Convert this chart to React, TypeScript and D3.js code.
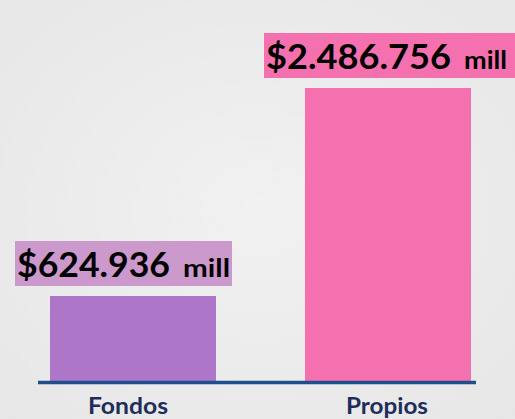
import React from "react";
import * as d3 from "d3";

const categories = ["Fondos", "Propios"];
const values = [624936, 2486756];
const valueLabels = ["$624.936", "$2.486.756"];
const unitLabel = "mill";
const barColors = ["#ad76c8", "#f570ae"];
const labelBoxColors = ["#cc99cc", "#f570ae"];

const W = 515;
const H = 419;

export default function App() {
  const pInner = 89 / 255;
  const x = d3
    .scaleBand<string>()
    .domain(categories)
    .range([-26.5, -26.5 + 255 * (2 - pInner + 0.6)])
    .paddingInner(pInner)
    .paddingOuter(0.3);
  // y domain baseline offset as in the original (bars not proportional to zero)
  const yMin = -140364;
  const y = d3.scaleLinear().domain([yMin, d3.max(values) as number]).range([381.5, 88]);
  const y0 = y(yMin);

  const numLen = [153, 185];
  const unitLen = [47, 43];
  const boxLeftArr = [15, 264];
  const boxWArr = [217, 251];
  const catLen = [80, 82];

  return (
    <div style={{ position: "absolute", left: 0, top: 0, width: W, height: H }}>
      <svg width={W} height={H} style={{ display: "block" }}>
        <defs>
          <radialGradient id="bg" cx="50%" cy="50%" r="75%">
            <stop offset="0%" stopColor="#f1f1f1" />
            <stop offset="100%" stopColor="#e6e6e6" />
          </radialGradient>
        </defs>
        <rect width={W} height={H} fill="url(#bg)" />
        {categories.map((c, i) => {
          const bx = x(c) as number;
          const bw = x.bandwidth();
          const top = y(values[i]);
          const boxTop = top - 55;
          const boxLeft = boxLeftArr[i];
          const boxW = boxWArr[i];
          return (
            <g key={c}>
              <rect x={bx} y={top} width={bw} height={y0 - top} fill={barColors[i]} />
              <rect x={boxLeft} y={boxTop} width={boxW} height={45} fill={labelBoxColors[i]} />
              <text
                x={boxLeft + 2}
                y={boxTop + 36}
                fontFamily="Lato, 'Open Sans', sans-serif"
                fontWeight={700}
                fontSize={35}
                fill="#000"
                textLength={numLen[i]}
                lengthAdjust="spacingAndGlyphs"
              >
                {valueLabels[i]}
              </text>
              <text
                x={boxLeft + 2 + numLen[i] + 13}
                y={boxTop + 36}
                fontFamily="Lato, 'Open Sans', sans-serif"
                fontWeight={700}
                fontSize={24}
                fill="#000"
                textLength={unitLen[i]}
                lengthAdjust="spacingAndGlyphs"
              >
                {unitLabel}
              </text>
              <text
                x={bx + bw / 2 - (i === 0 ? 5 : 1) - catLen[i] / 2}
                y={414}
                fontFamily="Lato, 'Open Sans', sans-serif"
                fontWeight={700}
                fontSize={22}
                fill="#1f2d5a"
                textLength={catLen[i]}
                lengthAdjust="spacingAndGlyphs"
              >
                {c}
              </text>
            </g>
          );
        })}
        <line x1={38} x2={476} y1={y0 + 1} y2={y0 + 1} stroke="#1c4f8c" strokeWidth={3.5} />
      </svg>
    </div>
  );
}
